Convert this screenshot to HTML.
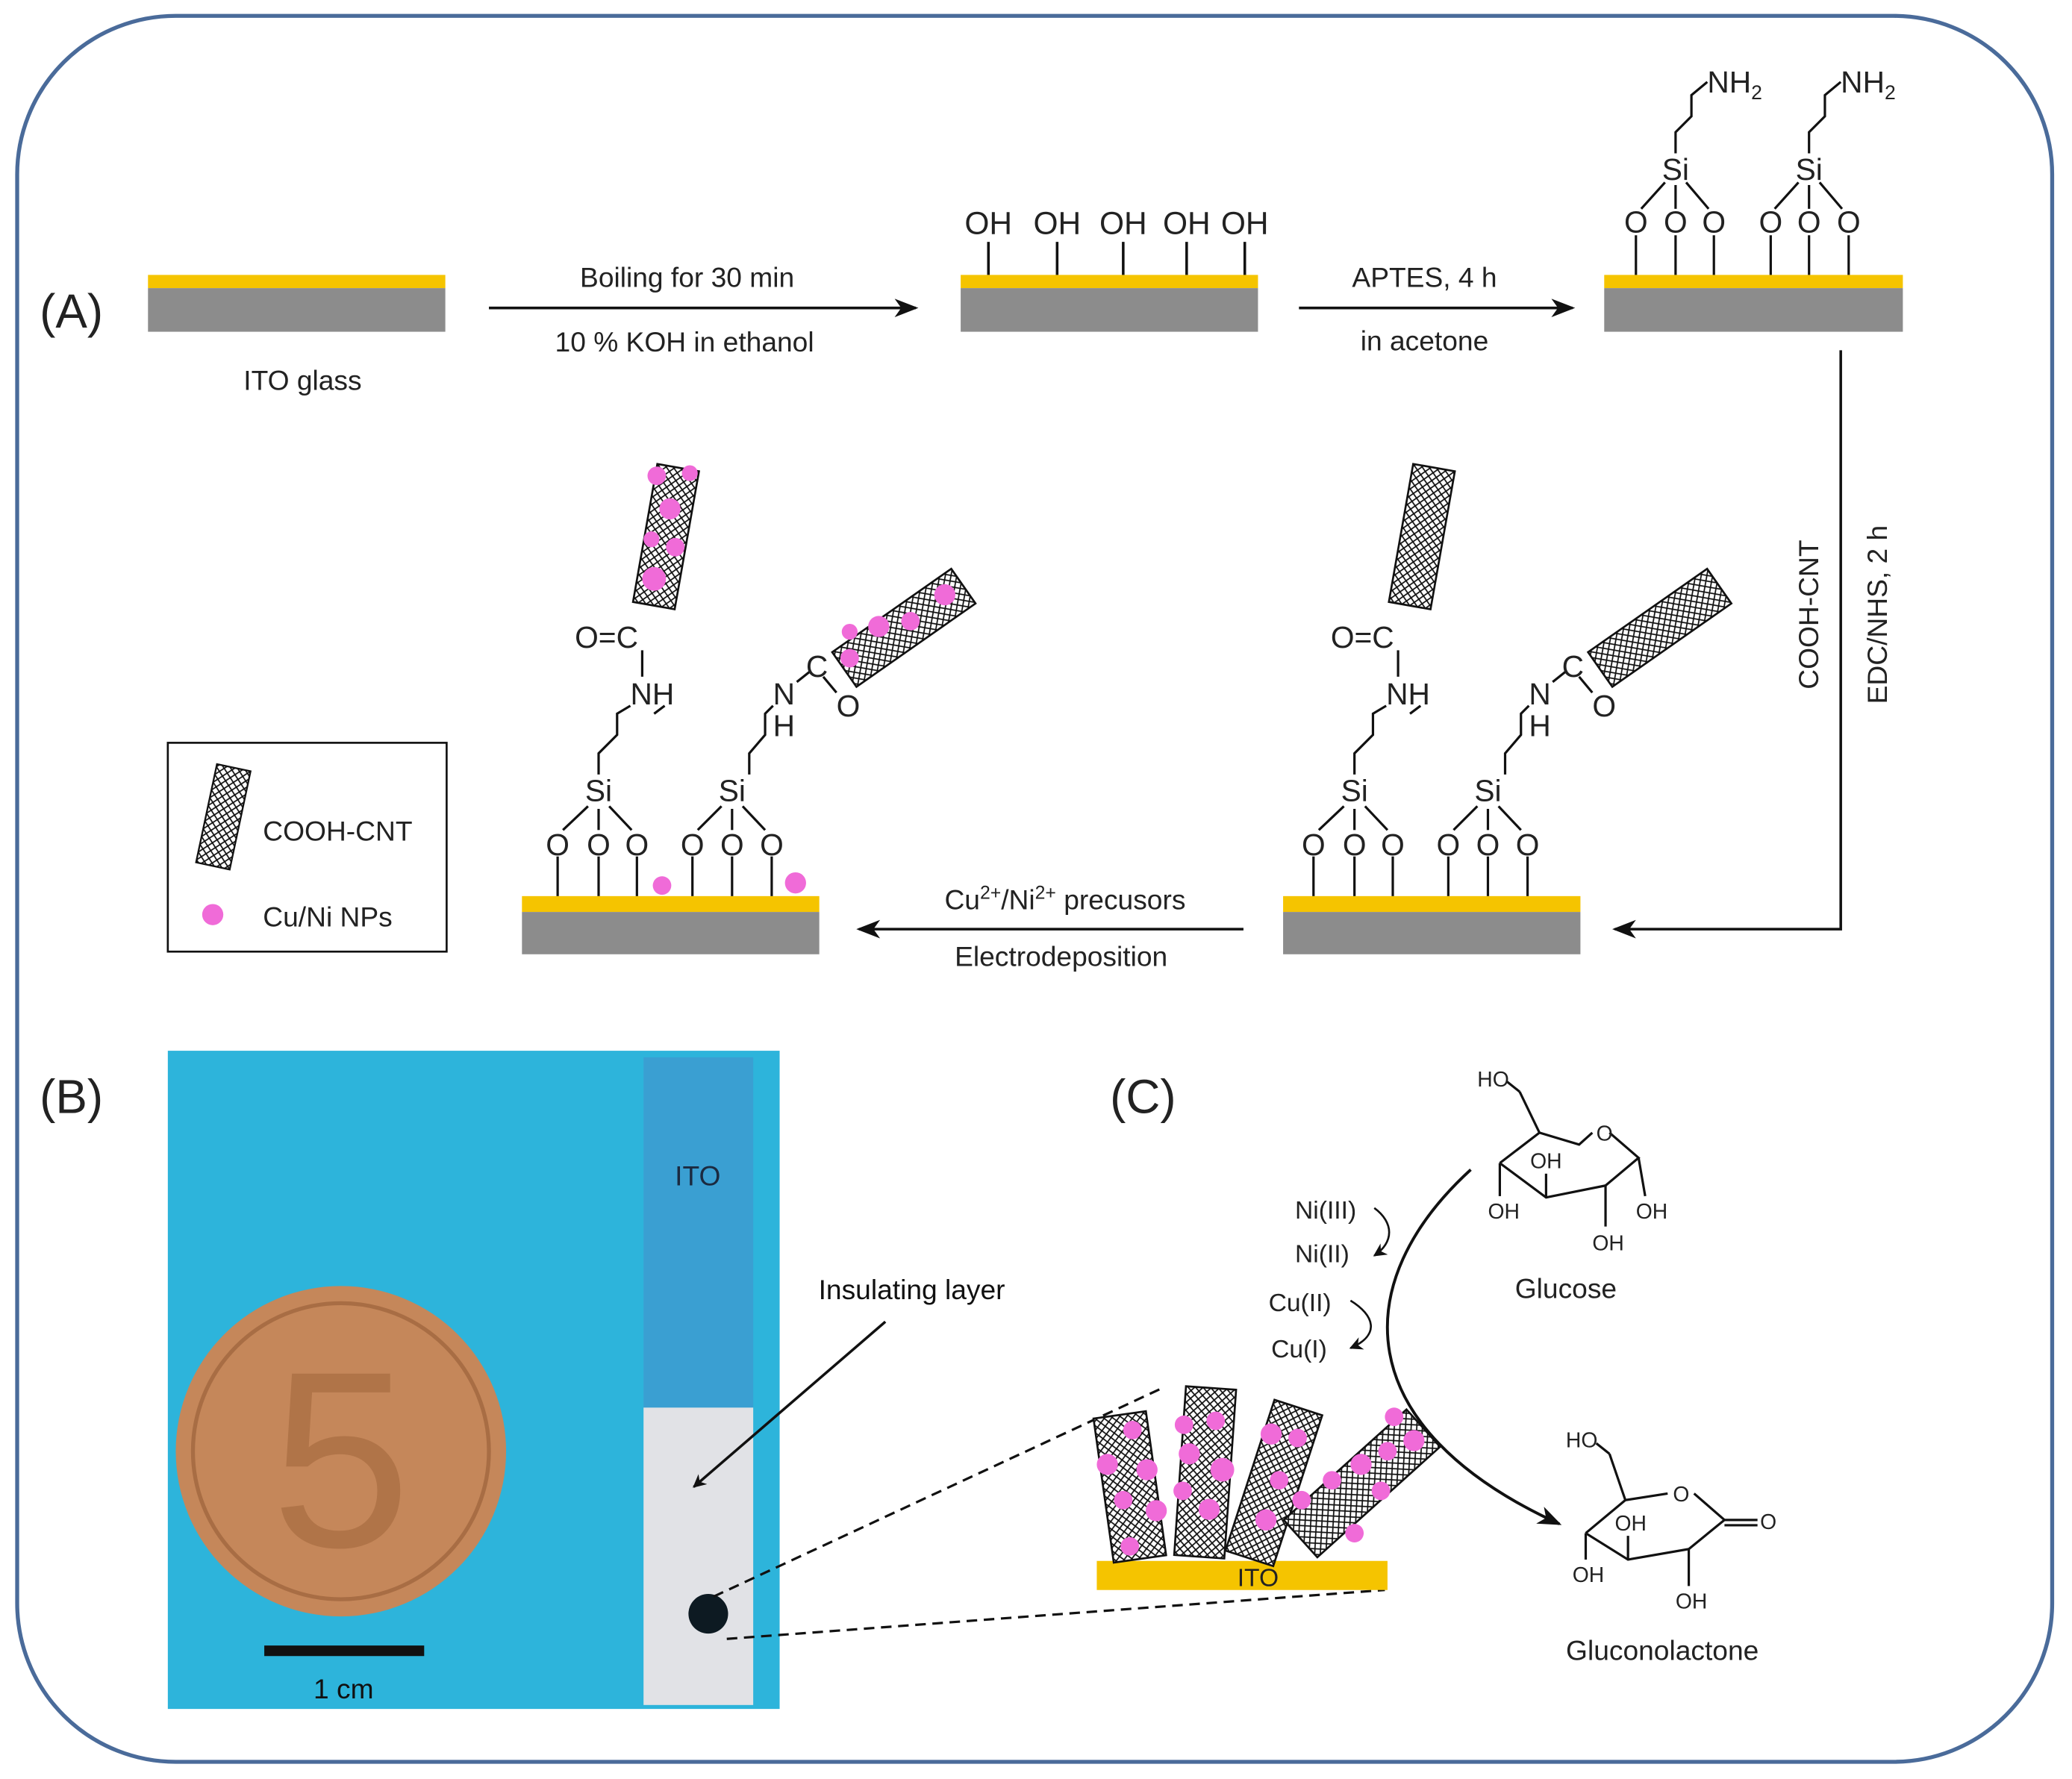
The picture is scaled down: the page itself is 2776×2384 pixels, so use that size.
<!DOCTYPE html>
<html><head><meta charset="utf-8"><style>html,body{margin:0;padding:0;background:#fff}svg{display:block}</style></head><body>
<svg width="2776" height="2384" viewBox="0 0 1568 1346" preserveAspectRatio="none" xmlns="http://www.w3.org/2000/svg" font-family="Liberation Sans, sans-serif" font-size="21" fill="#222">
<defs>
<pattern id="mesh" width="6" height="6" patternUnits="userSpaceOnUse">
<rect width="6" height="6" fill="#fff"/><path d="M0 0L6 6M6 0L0 6" stroke="#111" stroke-width="1"/>
</pattern>
<marker id="ar" markerWidth="10" markerHeight="10" refX="9" refY="5" orient="auto" markerUnits="userSpaceOnUse"><path d="M0 0L10 5L0 10L3 5Z" fill="#111"/></marker>
<marker id="ar2" markerWidth="18" markerHeight="14" refX="16" refY="7" orient="auto" markerUnits="userSpaceOnUse"><path d="M0 0L18 7L0 14L5 7Z" fill="#111"/></marker>
</defs>
<rect x="13" y="12" width="1540" height="1321" rx="120" fill="#fff" stroke="#4a6b9a" stroke-width="3"/>

<!-- (A) row 1 -->
<text x="30" y="248" font-size="36">(A)</text>
<rect x="112" y="208" width="225" height="10" fill="#f5c400"/><rect x="112" y="218" width="225" height="33" fill="#8c8c8c"/>
<text x="229" y="295" text-anchor="middle">ITO glass</text>
<line x1="370" y1="233" x2="693" y2="233" stroke="#111" stroke-width="2" marker-end="url(#ar2)"/>
<text x="520" y="217" text-anchor="middle">Boiling for 30 min</text>
<text x="518" y="266" text-anchor="middle">10 % KOH  in ethanol</text>

<rect x="727" y="208" width="225" height="10" fill="#f5c400"/><rect x="727" y="218" width="225" height="33" fill="#8c8c8c"/>
<g stroke="#111" stroke-width="2"><line x1="748" y1="183" x2="748" y2="208"/><line x1="800" y1="183" x2="800" y2="208"/><line x1="850" y1="183" x2="850" y2="208"/><line x1="898" y1="183" x2="898" y2="208"/><line x1="942" y1="183" x2="942" y2="208"/></g>
<g font-size="24"><text x="748" y="177" text-anchor="middle">OH</text><text x="800" y="177" text-anchor="middle">OH</text><text x="850" y="177" text-anchor="middle">OH</text><text x="898" y="177" text-anchor="middle">OH</text><text x="942" y="177" text-anchor="middle">OH</text></g>
<line x1="983" y1="233" x2="1190" y2="233" stroke="#111" stroke-width="2" marker-end="url(#ar2)"/>
<text x="1078" y="217" text-anchor="middle">APTES, 4 h</text>
<text x="1078" y="265" text-anchor="middle">in acetone</text>

<rect x="1214" y="208" width="226" height="10" fill="#f5c400"/><rect x="1214" y="218" width="226" height="33" fill="#8c8c8c"/>
<g font-size="23">
<g transform="translate(1268,0)">
<g stroke="#111" stroke-width="1.8" fill="none"><line x1="-30" y1="178" x2="-30" y2="208"/><line x1="0" y1="178" x2="0" y2="208"/><line x1="29" y1="178" x2="29" y2="208"/><line x1="-26" y1="158" x2="-8" y2="138"/><line x1="0" y1="158" x2="0" y2="140"/><line x1="25" y1="158" x2="8" y2="138"/><polyline points="0,116 0,100 12,88 12,72 24,62"/></g>
<text x="-30" y="176" text-anchor="middle">O</text><text x="0" y="176" text-anchor="middle">O</text><text x="29" y="176" text-anchor="middle">O</text><text x="0" y="136" text-anchor="middle">Si</text><text x="24" y="70">NH<tspan font-size="15" dy="5">2</tspan></text>
</g>
<g transform="translate(1369,0)">
<g stroke="#111" stroke-width="1.8" fill="none"><line x1="-29" y1="178" x2="-29" y2="208"/><line x1="0" y1="178" x2="0" y2="208"/><line x1="30" y1="178" x2="30" y2="208"/><line x1="-26" y1="158" x2="-8" y2="138"/><line x1="0" y1="158" x2="0" y2="140"/><line x1="25" y1="158" x2="8" y2="138"/><polyline points="0,116 0,100 12,88 12,72 24,62"/></g>
<text x="-29" y="176" text-anchor="middle">O</text><text x="0" y="176" text-anchor="middle">O</text><text x="30" y="176" text-anchor="middle">O</text><text x="0" y="136" text-anchor="middle">Si</text><text x="24" y="70">NH<tspan font-size="15" dy="5">2</tspan></text>
</g>
</g>

<polyline points="1393,265 1393,703 1222,703" fill="none" stroke="#111" stroke-width="2" marker-end="url(#ar2)"/>
<text transform="translate(1376,465) rotate(-90)" text-anchor="middle">COOH-CNT</text>
<text transform="translate(1428,465) rotate(-90)" text-anchor="middle">EDC/NHS, 2 h</text>

<!-- row 2: two functionalized substrates -->
<g id="s4">
<rect x="971" y="678" width="225" height="12" fill="#f5c400"/><rect x="971" y="690" width="225" height="32" fill="#8c8c8c"/>
</g>
<rect x="395" y="678" width="225" height="12" fill="#f5c400"/><rect x="395" y="690" width="225" height="32" fill="#8c8c8c"/>

<g font-size="23">
<!-- right structure -->
<g transform="translate(1025,0)">
<g stroke="#111" stroke-width="1.8" fill="none"><line x1="-31" y1="648" x2="-31" y2="678"/><line x1="0" y1="648" x2="0" y2="678"/><line x1="29" y1="648" x2="29" y2="678"/><line x1="-27" y1="628" x2="-8" y2="610"/><line x1="0" y1="628" x2="0" y2="612"/><line x1="25" y1="628" x2="8" y2="610"/><polyline points="0,586 0,570 14,556 14,540 24,534"/><line x1="33" y1="512" x2="33" y2="492"/><line x1="42" y1="540" x2="50" y2="534"/></g>
<text x="-31" y="647" text-anchor="middle">O</text><text x="0" y="647" text-anchor="middle">O</text><text x="29" y="647" text-anchor="middle">O</text><text x="0" y="606" text-anchor="middle">Si</text><text x="24" y="533">NH</text><text x="-18" y="490">O=C</text>
<g stroke="#111" stroke-width="1.8" fill="none"><polyline points="114,586 114,570 126,556 126,540 132,534"/><line x1="150" y1="516" x2="160" y2="508"/><line x1="170" y1="512" x2="180" y2="524"/></g>
<text x="132" y="533">N</text><text x="132" y="557">H</text><text x="157" y="512">C</text><text x="180" y="542">O</text>
<g transform="translate(101,0)"><g stroke="#111" stroke-width="1.8" fill="none"><line x1="-30" y1="648" x2="-30" y2="678"/><line x1="0" y1="648" x2="0" y2="678"/><line x1="30" y1="648" x2="30" y2="678"/><line x1="-26" y1="628" x2="-8" y2="610"/><line x1="0" y1="628" x2="0" y2="612"/><line x1="25" y1="628" x2="8" y2="610"/></g>
<text x="-30" y="647" text-anchor="middle">O</text><text x="0" y="647" text-anchor="middle">O</text><text x="30" y="647" text-anchor="middle">O</text><text x="0" y="606" text-anchor="middle">Si</text></g>
<rect x="35" y="353" width="32" height="106" fill="url(#mesh)" stroke="#111" stroke-width="1.5" transform="rotate(10 51 406)"/>
<rect x="215" y="420" width="32" height="110" fill="url(#mesh)" stroke="#111" stroke-width="1.5" transform="rotate(55 231 475)"/>
</g>
<!-- left structure -->
<g transform="translate(-572,0)">
<g transform="translate(1025,0)">
<g stroke="#111" stroke-width="1.8" fill="none"><line x1="-31" y1="648" x2="-31" y2="678"/><line x1="0" y1="648" x2="0" y2="678"/><line x1="29" y1="648" x2="29" y2="678"/><line x1="-27" y1="628" x2="-8" y2="610"/><line x1="0" y1="628" x2="0" y2="612"/><line x1="25" y1="628" x2="8" y2="610"/><polyline points="0,586 0,570 14,556 14,540 24,534"/><line x1="33" y1="512" x2="33" y2="492"/><line x1="42" y1="540" x2="50" y2="534"/></g>
<text x="-31" y="647" text-anchor="middle">O</text><text x="0" y="647" text-anchor="middle">O</text><text x="29" y="647" text-anchor="middle">O</text><text x="0" y="606" text-anchor="middle">Si</text><text x="24" y="533">NH</text><text x="-18" y="490">O=C</text>
<g stroke="#111" stroke-width="1.8" fill="none"><polyline points="114,586 114,570 126,556 126,540 132,534"/><line x1="150" y1="516" x2="160" y2="508"/><line x1="170" y1="512" x2="180" y2="524"/></g>
<text x="132" y="533">N</text><text x="132" y="557">H</text><text x="157" y="512">C</text><text x="180" y="542">O</text>
<g transform="translate(101,0)"><g stroke="#111" stroke-width="1.8" fill="none"><line x1="-30" y1="648" x2="-30" y2="678"/><line x1="0" y1="648" x2="0" y2="678"/><line x1="30" y1="648" x2="30" y2="678"/><line x1="-26" y1="628" x2="-8" y2="610"/><line x1="0" y1="628" x2="0" y2="612"/><line x1="25" y1="628" x2="8" y2="610"/></g>
<text x="-30" y="647" text-anchor="middle">O</text><text x="0" y="647" text-anchor="middle">O</text><text x="30" y="647" text-anchor="middle">O</text><text x="0" y="606" text-anchor="middle">Si</text></g>
<rect x="35" y="353" width="32" height="106" fill="url(#mesh)" stroke="#111" stroke-width="1.5" transform="rotate(10 51 406)"/>
<rect x="215" y="420" width="32" height="110" fill="url(#mesh)" stroke="#111" stroke-width="1.5" transform="rotate(55 231 475)"/>
<g fill="#f06bd8"><circle cx="44" cy="360" r="7"/><circle cx="54" cy="385" r="8"/><circle cx="40" cy="408" r="6"/><circle cx="58" cy="414" r="7"/><circle cx="42" cy="438" r="9"/><circle cx="69" cy="358" r="6"/><circle cx="190" cy="478" r="6"/><circle cx="212" cy="474" r="8"/><circle cx="236" cy="470" r="7"/><circle cx="262" cy="450" r="8"/><circle cx="190" cy="498" r="7"/></g>
</g>
</g>
<circle cx="501" cy="670" r="7" fill="#f06bd8"/><circle cx="602" cy="668" r="8" fill="#f06bd8"/>
</g>

<line x1="941" y1="703" x2="650" y2="703" stroke="#111" stroke-width="2" marker-end="url(#ar2)"/>
<text x="806" y="688" text-anchor="middle">Cu<tspan font-size="14" dy="-8">2+</tspan><tspan dy="8">/Ni</tspan><tspan font-size="14" dy="-8">2+</tspan><tspan dy="8"> precusors</tspan></text>
<text x="803" y="731" text-anchor="middle">Electrodeposition</text>

<!-- legend -->
<rect x="127" y="562" width="211" height="158" fill="#fff" stroke="#111" stroke-width="1.5"/>
<rect x="156" y="580" width="26" height="76" fill="url(#mesh)" stroke="#111" stroke-width="1.3" transform="rotate(12 169 618)"/>
<text x="199" y="636">COOH-CNT</text>
<circle cx="161" cy="692" r="8" fill="#f06bd8"/>
<text x="199" y="701">Cu/Ni NPs</text>

<!-- (B) -->
<text x="30" y="842" font-size="36">(B)</text>
<rect x="127" y="795" width="463" height="498" fill="#2db4db"/>
<rect x="487" y="800" width="83" height="265" fill="#3a9fd2"/>
<rect x="487" y="1065" width="83" height="225" fill="#e1e2e6"/>
<text x="528" y="897" text-anchor="middle" fill="#1b2a40">ITO</text>
<circle cx="258" cy="1098" r="125" fill="#c5875a"/>
<circle cx="258" cy="1098" r="112" fill="none" stroke="#a86d44" stroke-width="3"/>
<text x="258" y="1170" text-anchor="middle" font-size="190" fill="#b07448">5</text>
<circle cx="536" cy="1221" r="15" fill="#0d1a22"/>
<line x1="200" y1="1249" x2="321" y2="1249" stroke="#111" stroke-width="8"/>
<text x="260" y="1285" text-anchor="middle" fill="#111">1 cm</text>
<text x="690" y="983" text-anchor="middle" fill="#111">Insulating layer</text>
<line x1="670" y1="1000" x2="525" y2="1125" stroke="#111" stroke-width="2" marker-end="url(#ar)"/>

<!-- (C) -->
<text x="840" y="842" font-size="36">(C)</text>
<line x1="540" y1="1208" x2="880" y2="1050" stroke="#111" stroke-width="1.8" stroke-dasharray="8,5"/>
<line x1="550" y1="1240" x2="1048" y2="1203" stroke="#111" stroke-width="1.8" stroke-dasharray="8,5"/>
<rect x="830" y="1181" width="220" height="22" fill="#f5c400"/>
<text x="952" y="1200" text-anchor="middle" font-size="19">ITO</text>
<g stroke="#111" stroke-width="1.5">
<rect x="835" y="1070" width="40" height="110" fill="url(#mesh)" transform="rotate(-8 855 1125)"/>
<rect x="893" y="1050" width="38" height="128" fill="url(#mesh)" transform="rotate(4 912 1114)"/>
<rect x="945" y="1062" width="38" height="120" fill="url(#mesh)" transform="rotate(18 964 1122)"/>
<rect x="1012" y="1060" width="38" height="125" fill="url(#mesh)" transform="rotate(48 1031 1122)"/>
</g>
<g fill="#f06bd8"><circle cx="838" cy="1108" r="8"/><circle cx="857" cy="1082" r="7"/><circle cx="868" cy="1112" r="8"/><circle cx="850" cy="1135" r="7"/><circle cx="875" cy="1143" r="8"/><circle cx="855" cy="1170" r="7"/><circle cx="896" cy="1078" r="7"/><circle cx="920" cy="1075" r="7"/><circle cx="900" cy="1100" r="8"/><circle cx="925" cy="1112" r="9"/><circle cx="895" cy="1128" r="7"/><circle cx="915" cy="1142" r="8"/><circle cx="962" cy="1085" r="8"/><circle cx="982" cy="1088" r="7"/><circle cx="968" cy="1120" r="7"/><circle cx="958" cy="1150" r="8"/><circle cx="985" cy="1135" r="7"/><circle cx="1008" cy="1120" r="7"/><circle cx="1030" cy="1108" r="8"/><circle cx="1050" cy="1098" r="7"/><circle cx="1070" cy="1090" r="8"/><circle cx="1055" cy="1072" r="7"/><circle cx="1025" cy="1160" r="7"/><circle cx="1045" cy="1128" r="7"/></g>

<path d="M1113 885 C1020 970 1020 1080 1180 1153" fill="none" stroke="#111" stroke-width="2.2" marker-end="url(#ar2)"/>
<g font-size="19">
<text x="980" y="922">Ni(III)</text><text x="980" y="955">Ni(II)</text>
<text x="960" y="992">Cu(II)</text><text x="962" y="1027">Cu(I)</text>
</g>
<g fill="none" stroke="#111" stroke-width="1.5">
<path d="M1040 914 C1055 925 1055 940 1040 950" marker-end="url(#ar)"/>
<path d="M1022 984 C1040 995 1045 1010 1022 1020" marker-end="url(#ar)"/>
</g>

<!-- glucose -->
<g fill="none" stroke="#111" stroke-width="1.8">
<polyline points="1135,880 1165,857 1195,866 1205,857"/><polyline points="1218,857 1240,876 1215,897 1170,906 1135,880"/>
<line x1="1165" y1="857" x2="1150" y2="826"/><line x1="1150" y1="826" x2="1140" y2="818"/>
<line x1="1135" y1="880" x2="1135" y2="905"/><line x1="1170" y1="906" x2="1170" y2="888"/>
<line x1="1215" y1="897" x2="1215" y2="928"/><line x1="1240" y1="876" x2="1245" y2="905"/>
</g>
<g font-size="16"><text x="1118" y="822">HO</text><text x="1208" y="863">O</text><text x="1158" y="884">OH</text><text x="1126" y="922">OH</text><text x="1205" y="946">OH</text><text x="1238" y="922">OH</text></g>
<text x="1185" y="982" text-anchor="middle">Glucose</text>

<!-- gluconolactone -->
<g fill="none" stroke="#111" stroke-width="1.8">
<polyline points="1200,1160 1230,1135 1262,1130"/><polyline points="1282,1130 1305,1150 1278,1172 1232,1180 1200,1160"/>
<line x1="1305" y1="1150" x2="1330" y2="1150"/><line x1="1305" y1="1154" x2="1330" y2="1154"/>
<line x1="1230" y1="1135" x2="1218" y2="1100"/><line x1="1218" y1="1100" x2="1208" y2="1092"/>
<line x1="1200" y1="1160" x2="1200" y2="1180"/><line x1="1232" y1="1180" x2="1232" y2="1162"/><line x1="1278" y1="1172" x2="1278" y2="1200"/>
</g>
<g font-size="16"><text x="1185" y="1095">HO</text><text x="1266" y="1136">O</text><text x="1332" y="1157">O</text><text x="1222" y="1158">OH</text><text x="1190" y="1197">OH</text><text x="1268" y="1217">OH</text></g>
<text x="1258" y="1256" text-anchor="middle">Gluconolactone</text>
</svg>
</body></html>
